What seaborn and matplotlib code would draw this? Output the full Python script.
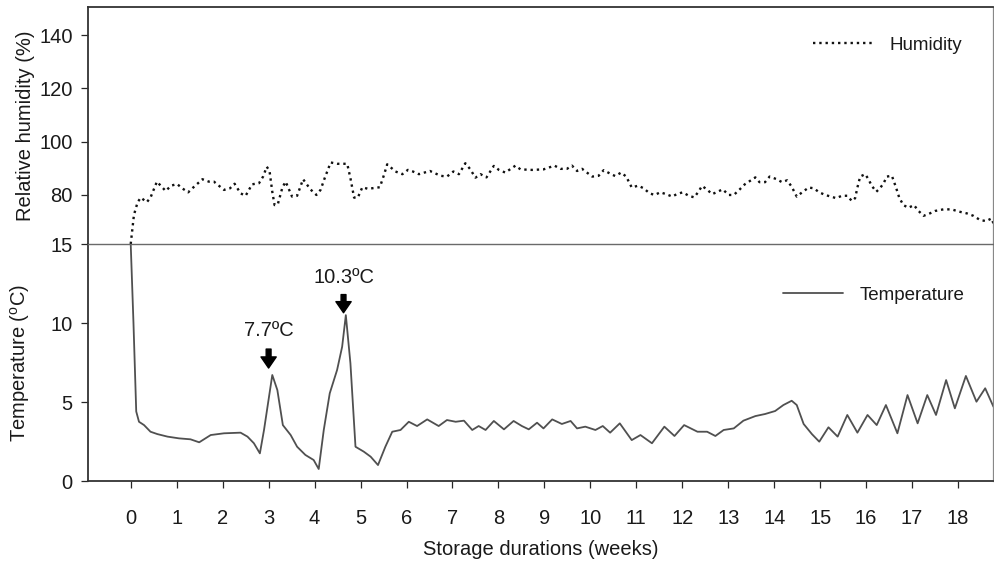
import matplotlib
matplotlib.use("Agg")
import matplotlib.pyplot as plt
import seaborn as sns
import pandas as pd

# ---------------- data ----------------
hum_weeks = [0, 0.07, 0.15, 0.22, 0.35, 0.43, 0.57, 0.76, 0.88, 1.01,
             1.12, 1.25, 1.36, 1.56, 1.70, 1.81, 2.03, 2.16, 2.26, 2.39,
             2.50, 2.64, 2.79, 2.88, 2.96, 3.02, 3.08, 3.13, 3.20, 3.30,
             3.37, 3.51, 3.62, 3.75, 3.91, 4.04, 4.13, 4.22, 4.35, 4.49,
             4.71, 4.78, 4.86, 4.94, 5.04, 5.16, 5.42, 5.51, 5.58, 5.76,
             5.91, 6.03, 6.14, 6.27, 6.51, 6.74, 6.88, 7.02, 7.14, 7.28,
             7.38, 7.50, 7.61, 7.74, 7.90, 8.01, 8.15, 8.37, 8.48, 8.73,
             8.98, 9.22, 9.35, 9.49, 9.60, 9.71, 9.82, 10.04, 10.18, 10.29,
             10.43, 10.54, 10.67, 10.78, 10.90, 11.04, 11.16, 11.29, 11.40, 11.52,
             11.65, 11.78, 11.88, 12.01, 12.14, 12.26, 12.35, 12.43, 12.54, 12.65,
             12.88, 13.01, 13.12, 13.25, 13.36, 13.59, 13.68, 13.80, 13.90, 14.04,
             14.17, 14.28, 14.38, 14.49, 14.60, 14.75, 14.86, 14.98, 15.11, 15.23,
             15.35, 15.47, 15.59, 15.69, 15.76, 15.81, 15.87, 15.98, 16.05, 16.12,
             16.22, 16.30, 16.38, 16.45, 16.56, 16.65, 16.72, 16.81, 16.92, 17.04,
             17.14, 17.25, 17.35, 17.50, 17.68, 17.86, 18.01, 18.19, 18.33, 18.48,
             18.61, 18.73, 18.78]
humidity = [61.6, 72.5, 77.3, 79.0, 77.3, 79.0, 85.0, 81.5, 83.5, 84.1,
            82.5, 81.0, 82.8, 85.9, 85.0, 85.0, 81.9, 82.5, 84.2, 80.6,
            79.7, 84.0, 84.4, 86.9, 90.6, 89.0, 81.2, 76.2, 76.5, 82.8,
            85.0, 79.4, 79.7, 85.9, 82.1, 80.0, 81.9, 86.3, 92.2, 91.7,
            91.7, 86.3, 79.0, 79.0, 82.9, 82.3, 82.9, 87.5, 91.5, 88.8,
            87.8, 89.4, 88.8, 87.8, 89.0, 87.2, 86.9, 88.8, 87.8, 91.9,
            89.8, 86.5, 87.8, 86.6, 90.9, 89.4, 88.4, 91.0, 89.6, 89.4,
            89.6, 91.0, 89.8, 89.8, 91.0, 89.0, 89.8, 86.9, 87.2, 89.3,
            88.0, 87.1, 88.4, 86.9, 82.8, 83.5, 82.5, 80.6, 80.0, 81.0,
            80.3, 79.4, 80.3, 81.0, 79.7, 79.1, 81.2, 83.4, 82.0, 80.3,
            82.1, 80.0, 80.0, 82.1, 84.0, 86.6, 84.8, 84.8, 86.9, 86.0,
            84.8, 85.5, 83.1, 79.4, 80.9, 82.8, 82.5, 81.0, 80.0, 79.4,
            78.8, 79.7, 79.7, 77.7, 78.8, 82.8, 86.9, 87.8, 85.9, 83.5,
            81.2, 82.5, 84.4, 86.9, 87.2, 82.8, 79.0, 76.2, 75.2, 76.2,
            74.0, 72.2, 72.8, 74.0, 74.6, 74.6, 73.8, 73.1, 72.2, 70.6,
            70.2, 71.2, 68.8]

temp_weeks = [0, 0.06, 0.12, 0.18, 0.29, 0.43, 0.58, 0.80, 1.05, 1.30,
              1.49, 1.74, 2.03, 2.39, 2.54, 2.68, 2.81, 2.90, 3.08, 3.19,
              3.31, 3.48, 3.62, 3.80, 3.98, 4.09, 4.20, 4.33, 4.49, 4.60,
              4.68, 4.78, 4.89, 5.07, 5.22, 5.38, 5.54, 5.69, 5.87, 6.05,
              6.23, 6.45, 6.70, 6.88, 7.07, 7.25, 7.43, 7.57, 7.72, 7.90,
              8.12, 8.33, 8.51, 8.66, 8.84, 8.98, 9.17, 9.38, 9.57, 9.71,
              9.89, 10.11, 10.27, 10.43, 10.64, 10.90, 11.09, 11.34, 11.61, 11.83,
              12.04, 12.33, 12.54, 12.72, 12.90, 13.12, 13.33, 13.59, 13.80, 14.02,
              14.20, 14.38, 14.49, 14.64, 14.82, 14.98, 15.18, 15.38, 15.59, 15.81,
              16.03, 16.23, 16.43, 16.68, 16.90, 17.12, 17.33, 17.52, 17.74, 17.93,
              18.17, 18.40, 18.59, 18.77]
temperature = [15.0, 10.0, 4.4, 3.75, 3.54, 3.12, 2.97, 2.81, 2.70, 2.64,
               2.45, 2.91, 3.02, 3.06, 2.81, 2.39, 1.75, 3.23, 6.71, 5.76,
               3.54, 2.91, 2.17, 1.65, 1.33, 0.76, 3.23, 5.55, 7.03, 8.5,
               10.5, 7.45, 2.17, 1.86, 1.54, 1.01, 2.17, 3.12, 3.23, 3.75,
               3.48, 3.90, 3.48, 3.86, 3.75, 3.82, 3.23, 3.48, 3.23, 3.80,
               3.27, 3.80, 3.48, 3.27, 3.69, 3.33, 3.90, 3.61, 3.80, 3.33,
               3.44, 3.23, 3.48, 3.06, 3.65, 2.59, 2.91, 2.39, 3.44, 2.85,
               3.54, 3.12, 3.12, 2.85, 3.23, 3.33, 3.82, 4.11, 4.24, 4.43,
               4.81, 5.08, 4.81, 3.61, 2.97, 2.49, 3.40, 2.81, 4.18, 3.06,
               4.18, 3.54, 4.81, 3.02, 5.44, 3.65, 5.44, 4.18, 6.39, 4.60,
               6.65, 5.02, 5.87, 4.70]

week_ticks = list(range(0, 19))
hum_ticks = [80, 100, 120, 140]
temp_ticks = [0, 5, 10, 15]
peak_labels = ["7.7ºC", "10.3ºC"]
peak_weeks = [3.0, 4.63]

# ---------------- style ----------------
sns.set_style("ticks")
plt.rcParams["font.family"] = ["Liberation Sans", "DejaVu Sans"]
plt.rcParams["mathtext.fontset"] = "custom"
plt.rcParams["mathtext.rm"] = "Liberation Sans"
TXT = "#1a1a1a"
FS = 14.5

hum_df = pd.DataFrame({"week": hum_weeks, "rh": humidity})
tmp_df = pd.DataFrame({"week": temp_weeks, "t": temperature})

fig = plt.figure(figsize=(9.94, 5.62), dpi=100)
L, W = 0.0885, 0.9105
ax_t = fig.add_axes([L, 0.1441, W, 0.4217])
ax_h = fig.add_axes([L, 0.5658, W, 0.4217])
ax_h.patch.set_alpha(0)
ax_t.patch.set_alpha(0)

xlim = (-0.93, 18.76)

# humidity panel
sns.lineplot(data=hum_df, x="week", y="rh", ax=ax_h, color="#111111",
             linestyle=":", linewidth=1.7, label="Humidity", sort=False)
ax_h.set_xlim(*xlim)
ax_h.set_ylim(61.6, 150.5)
ax_h.set_yticks(hum_ticks)
ax_h.set_xticks([])
ax_h.set_xlabel("")
ax_h.set_ylabel("Relative humidity (%)", fontsize=FS, color=TXT, labelpad=3)
ax_h.tick_params(axis="y", labelsize=FS, labelcolor=TXT, length=5, width=0.9, pad=6)
for s in ["top", "left"]:
    ax_h.spines[s].set_linewidth(1.3)
    ax_h.spines[s].set_color("#333333")
ax_h.spines["right"].set_visible(True)
ax_h.spines["right"].set_color("#888888")
ax_h.spines["right"].set_linewidth(0.9)
ax_h.spines["bottom"].set_color("#6a6a6a")
ax_h.spines["bottom"].set_linewidth(1.0)
leg = ax_h.legend(loc="center right", bbox_to_anchor=(0.985, 0.84), frameon=False,
                  fontsize=13.5, handlelength=3.2, handletextpad=0.9)
for t in leg.get_texts():
    t.set_color(TXT)

# temperature panel
sns.lineplot(data=tmp_df, x="week", y="t", ax=ax_t, color="#505050",
             linewidth=1.3, label="Temperature", sort=False)
ax_t.set_xlim(*xlim)
ax_t.set_ylim(0, 15)
ax_t.set_yticks(temp_ticks)
ax_t.set_xticks(week_ticks)
ax_t.set_xlabel("Storage durations (weeks)", fontsize=FS, color=TXT, labelpad=9)
ax_t.set_ylabel(r"Temperature ($\mathregular{^{o}}$C)", fontsize=FS, color=TXT, labelpad=13)
ax_t.tick_params(axis="y", labelsize=FS, labelcolor=TXT, length=5, width=0.9, pad=6)
ax_t.tick_params(axis="x", labelsize=FS, labelcolor=TXT, length=5, width=0.9, pad=15)
ax_t.spines["top"].set_visible(False)
for s in ["bottom", "left"]:
    ax_t.spines[s].set_linewidth(1.3)
    ax_t.spines[s].set_color("#333333")
ax_t.spines["right"].set_visible(True)
ax_t.spines["right"].set_color("#888888")
ax_t.spines["right"].set_linewidth(0.9)
leg2 = ax_t.legend(loc="center right", bbox_to_anchor=(0.987, 0.785), frameon=False,
                   fontsize=13.5, handlelength=3.2, handletextpad=0.9)
for t in leg2.get_texts():
    t.set_color(TXT)

# peak annotations
label_y = [9.55, 12.85]
arrow_top = [8.35, 11.8]
arrow_tip = [7.15, 10.65]
for lab, wx, ly, at, tip in zip(peak_labels, peak_weeks, label_y, arrow_top, arrow_tip):
    ax_t.text(wx, ly, lab, ha="center", va="center", fontsize=FS, color=TXT)
    ax_t.annotate("", xy=(wx, tip), xytext=(wx, at),
                  arrowprops=dict(facecolor="black", edgecolor="black", width=3.5,
                                  headwidth=11, headlength=8, shrink=0))

fig.savefig("out.png", dpi=100)
